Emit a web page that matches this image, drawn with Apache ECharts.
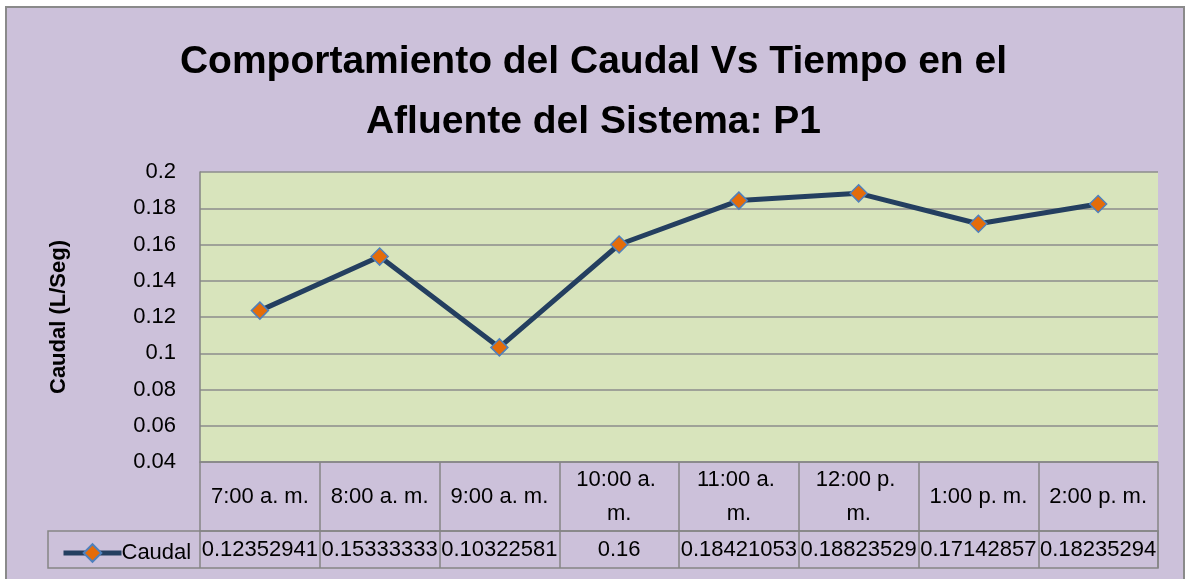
<!DOCTYPE html>
<html>
<head>
<meta charset="utf-8">
<script src="https://cdn.jsdelivr.net/npm/echarts@6/dist/echarts.min.js"></script>
<style>
  html, body { margin: 0; padding: 0; background: #fff; }
  #main { width: 1187px; height: 579px; }
</style>
</head>
<body>
<div id="main"></div>
<script>
// datos del gráfico
const horas = ['7:00 a. m.', '8:00 a. m.', '9:00 a. m.', '10:00 a. m.', '11:00 a. m.', '12:00 p. m.', '1:00 p. m.', '2:00 p. m.'];
const caudal = [0.12352941, 0.15333333, 0.10322581, 0.16, 0.18421053, 0.18823529, 0.17142857, 0.18235294];
const yTicks = { min: 0.04, max: 0.2, step: 0.02 };

const FONT = "'Liberation Sans', Arial, sans-serif";
const GRIS = '#858585';

const chart = echarts.init(document.getElementById('main'));

const option = {
    backgroundColor: '#ffffff',
    animation: false,
    title: {
        text: 'Comportamiento del Caudal Vs Tiempo en el\nAfluente del Sistema: P1',
        left: 'center',
        top: 27,
        textStyle: { fontFamily: FONT, fontSize: 39, fontWeight: 'bold', color: '#000', lineHeight: 60 }
    },
    legend: {
        left: 56,
        top: 537,
        itemWidth: 58,
        itemHeight: 22,
        itemGap: 0,
        lineStyle: { width: 5 },
        textStyle: { fontFamily: FONT, fontSize: 22, color: '#000', padding: [0, 0, 0, -5] },
        data: ['Caudal']
    },
    grid: {
        left: 200, right: 29, top: 172, bottom: 117,
        show: true, backgroundColor: '#d8e4bc', borderWidth: 0
    },
    // fondo y bordes de la tabla
    graphic: [
        { type: 'rect', z: -10, shape: { x: 6, y: 7, width: 1178, height: 620 },
          style: { fill: '#ccc1da', stroke: '#8a8a8a', lineWidth: 2 } },
        { type: 'rect', z: 10, shape: { x: 48, y: 531, width: 1110, height: 37 },
          style: { fill: 'none', stroke: GRIS, lineWidth: 1.5 } }
    ],
    xAxis: [
        {
            type: 'category',
            data: horas,
            position: 'bottom',
            boundaryGap: true,
            axisLine: { show: true, lineStyle: { color: GRIS, width: 1.5 } },
            axisTick: { show: true, length: 69, lineStyle: { color: GRIS, width: 1.5 } },
            axisLabel: {
                margin: 35, verticalAlign: 'middle', width: 104, overflow: 'break',
                lineHeight: 34, fontFamily: FONT, fontSize: 22, color: '#000', interval: 0
            }
        },
        {
            type: 'category',
            data: caudal.map(v => String(v)),
            position: 'bottom',
            offset: 69,
            boundaryGap: true,
            axisLine: { show: true, lineStyle: { color: GRIS, width: 1.5 } },
            axisTick: { show: true, length: 37, lineStyle: { color: GRIS, width: 1.5 } },
            axisLabel: {
                margin: 19, verticalAlign: 'middle',
                fontFamily: FONT, fontSize: 22, color: '#000', interval: 0
            }
        }
    ],
    yAxis: {
        type: 'value',
        min: yTicks.min,
        max: yTicks.max,
        interval: yTicks.step,
        name: 'Caudal (L/Seg)',
        nameLocation: 'middle',
        nameRotate: 90,
        nameGap: 130,
        nameTextStyle: { fontFamily: FONT, fontSize: 22, fontWeight: 'bold', color: '#000' },
        axisLine: { show: true, lineStyle: { color: GRIS, width: 1.5 } },
        axisTick: { show: false },
        splitLine: { show: true, lineStyle: { color: '#8c8c8c', width: 1.5 } },
        axisLabel: { margin: 24, fontFamily: FONT, fontSize: 22, color: '#000' }
    },
    series: [
        {
            name: 'Caudal',
            type: 'line',
            xAxisIndex: 0,
            data: caudal,
            symbol: 'diamond',
            symbolSize: 17,
            lineStyle: { color: '#243f60', width: 5 },
            itemStyle: { color: '#e46c0a', borderColor: '#4f81bd', borderWidth: 1.5 }
        }
    ]
};

chart.setOption(option);
</script>
</body>
</html>
